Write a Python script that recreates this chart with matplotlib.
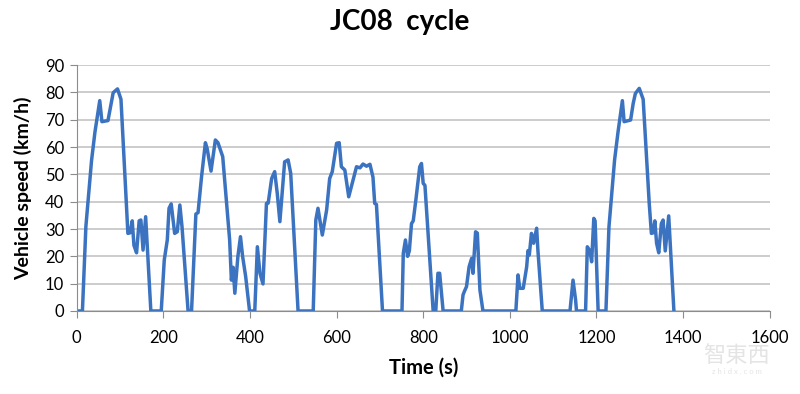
import matplotlib.pyplot as plt

# JC08 speed trace
time_s = [0, 13, 21, 34, 42, 53, 58, 72, 84, 94, 102, 118, 123, 128, 132, 138, 144, 148, 153, 159,
          171, 195, 202, 209, 213, 218, 226, 232, 238, 243, 257, 265, 275, 280, 288, 297, 301, 310, 320, 326,
          337, 353, 357, 361, 365, 372, 378, 383, 390, 399, 411, 417, 423, 430, 438, 442, 450, 457, 463, 469,
          473, 480, 488, 494, 511, 546, 552, 557, 567, 577, 584, 590, 600, 606, 611, 619, 628, 638, 646, 654,
          661, 669, 677, 684, 688, 692, 706, 751, 754, 759, 764, 768, 773, 777, 783, 792, 796, 800, 804, 823,
          829, 834, 838, 846, 888, 892, 896, 900, 906, 912, 915, 921, 925, 931, 938, 1014, 1019, 1023, 1031, 1039,
          1042, 1045, 1050, 1055, 1062, 1065, 1075, 1139, 1146, 1152, 1154, 1175, 1179, 1185, 1189, 1194, 1197, 1204, 1222, 1229,
          1242, 1250, 1260, 1264, 1279, 1285, 1290, 1299, 1308, 1322, 1327, 1331, 1335, 1339, 1344, 1350, 1354, 1359, 1367, 1379]
speed = [0, 0, 31, 55, 65.6, 77, 69.3, 69.7, 79.9, 81.3, 77.5, 28.4, 28.6, 33, 24, 21.3, 33, 33.3, 22.3, 34.5,
         0, 0, 18.7, 26, 37.6, 39.2, 28.4, 29, 38.8, 30.8, 0, 0, 35.5, 36, 49, 61.6, 59.5, 51.2, 62.6, 61.6,
         56.5, 26, 11.3, 16, 6.5, 19.9, 27.2, 19.9, 12.6, 0, 0, 23.5, 13.8, 9.9, 39.4, 39.5, 48.5, 51, 43, 32.7,
         40.6, 54.6, 55.3, 50.4, 0, 0, 33.3, 37.6, 27.8, 37, 48.5, 51, 61.4, 61.6, 52.8, 51.6, 41.8, 48, 52.8, 52.4,
         53.8, 53, 53.7, 49, 39.4, 39, 0, 0, 21.1, 26, 20, 22, 32, 33, 40.6, 52.8, 54, 46.7, 46, 0,
         0, 13.8, 13.8, 0, 0, 5.9, 7.5, 8.9, 16.2, 19.3, 13.8, 29, 28.5, 7.7, 0, 0, 13.2, 8.3, 8.3, 16.2,
         22.1, 20.5, 28.4, 24.8, 30.3, 22, 0, 0, 11.3, 4, 0, 0, 23.5, 22, 18, 33.9, 33, 0, 0, 30.8,
         55.3, 65.6, 77, 69.3, 69.9, 76, 79.6, 81.5, 77.5, 39.4, 28.4, 28.6, 33, 24.8, 21.3, 32, 33.3, 22, 34.8, 0]
assert len(time_s) == len(speed)

x_ticks = [0, 200, 400, 600, 800, 1000, 1200, 1400, 1600]
y_ticks = [0, 10, 20, 30, 40, 50, 60, 70, 80, 90]

plt.rcParams['font.family'] = ['Lato', 'DejaVu Sans']

fig = plt.figure(figsize=(8, 3.94), dpi=100)
ax = fig.add_axes([0.096, 0.2107, 0.866, 0.624])

ax.plot(time_s, speed, color='#3b73c0', lw=2.5, solid_joinstyle='round')

ax.set_xlim(0, 1600)
ax.set_ylim(0, 90)
ax.set_xticks(x_ticks)
ax.set_yticks(y_ticks)
ax.yaxis.grid(True, color='#bfbfbf', lw=1.1)
ax.set_axisbelow(True)
for s in ['top', 'right']:
    ax.spines[s].set_visible(False)
for s in ['left', 'bottom']:
    ax.spines[s].set_color('#8c8c8c')
ax.tick_params(axis='both', colors='#8c8c8c', length=5, labelsize=12, labelcolor='black')
ax.tick_params(axis='y', pad=4)
ax.tick_params(axis='x', pad=9)

ax.set_xlabel('Time (s)', fontsize=14.5, fontweight='bold', labelpad=8)
ax.set_ylabel('Vehicle speed (km/h)', fontsize=14, fontweight='bold', labelpad=9)
fig.text(0.5, 0.944, 'JC08  cycle', ha='center', va='center', fontsize=20, fontweight='bold')

# faint watermark in the corner
fig.text(0.921, 0.097, '智東西', ha='center', va='center', fontsize=16, color='#e4e4e4',
         family=['Noto Sans CJK TC', 'DejaVu Sans'])
fig.text(0.921, 0.058, 'z h i d x . c o m', ha='center', va='center', fontsize=5.5, color='#e4e4e4')

plt.savefig('out.png', dpi=100)
